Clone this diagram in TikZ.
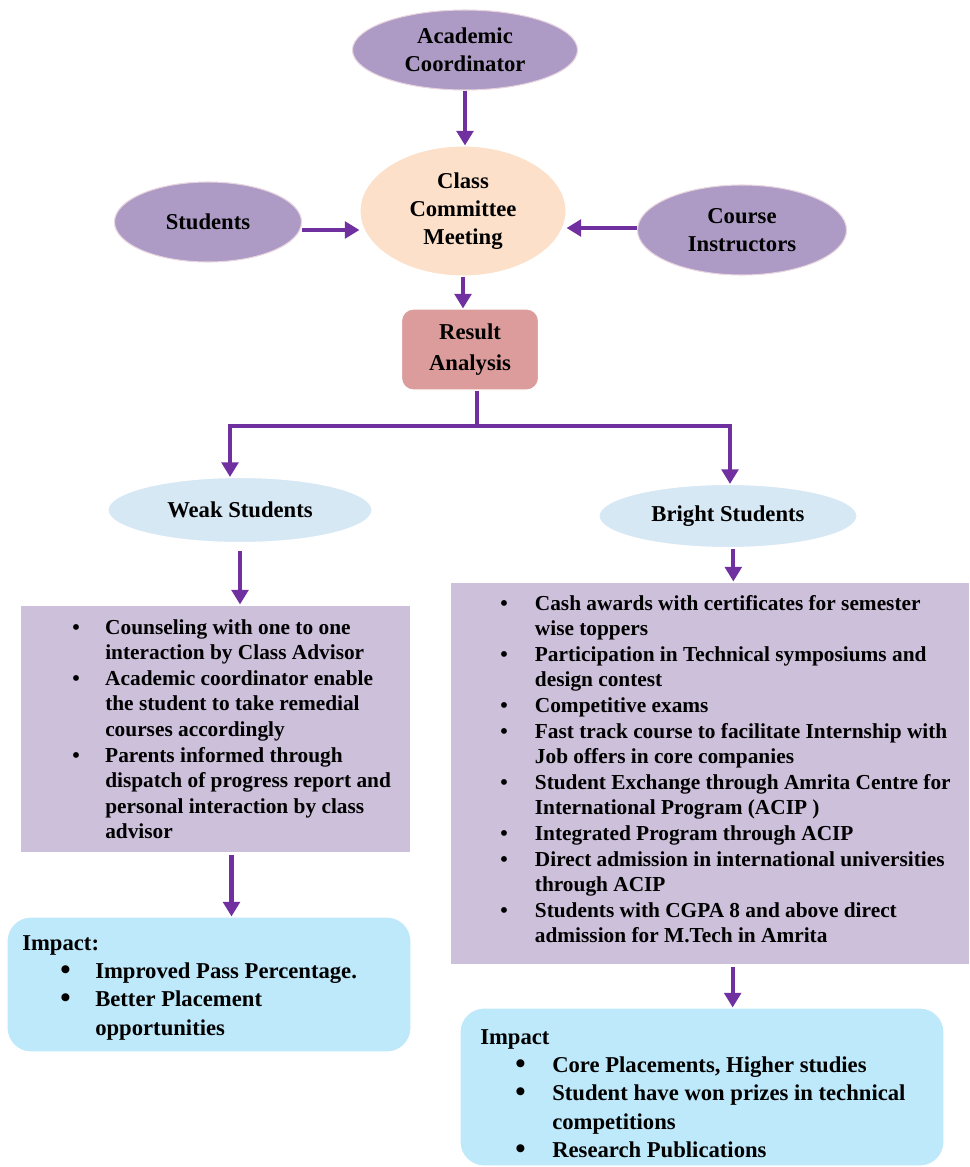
\documentclass[tikz,border=0pt]{standalone}
\usepackage{fontspec}
\usepackage{graphicx}
\setmainfont{Liberation Serif}
\usetikzlibrary{shapes.geometric,arrows.meta}

\definecolor{ovalpurple}{RGB}{173,155,198}
\definecolor{ovalrim}{RGB}{232,212,222}
\definecolor{meetpeach}{RGB}{252,224,201}
\definecolor{resultrose}{RGB}{221,156,156}
\definecolor{paleblue}{RGB}{215,232,245}
\definecolor{lavender}{RGB}{204,192,218}
\definecolor{impactblue}{RGB}{190,233,250}
\definecolor{flowpurple}{RGB}{112,48,160}

\newcommand{\bigbullet}{\raisebox{-0.5pt}{\scalebox{1.3}{\textbullet}}}

\begin{document}
\begin{tikzpicture}[x=0.75pt,y=-0.75pt,
  boxdim/.style 2 args={minimum width=#1*0.75pt,minimum height=#2*0.75pt},
  oval/.style={ellipse,inner sep=0pt,align=center,font=\bfseries\fontsize{17}{21}\selectfont},
  peopleoval/.style={oval,fill=ovalpurple,draw=ovalrim,line width=0.8pt},
  groupoval/.style={oval,fill=paleblue,draw=white,line width=0.8pt},
  listbox/.style={rectangle,inner sep=0pt,fill=lavender,draw=white,line width=0.8pt},
  impactbox/.style={rectangle,inner sep=0pt,rounded corners=18pt,fill=impactblue,draw=white,line width=0.8pt},
  listtext/.style={anchor=north west,inner sep=0pt,font=\bfseries\fontsize{16}{19.2}\selectfont},
  impacttext/.style={anchor=north west,inner sep=0pt,font=\bfseries\fontsize{17}{21.3}\selectfont},
  flowline/.style={draw=flowpurple,line width=3.2pt},
  flowarrow/.style={flowline,-{Triangle[length=11pt,width=12.5pt]}},
]
\useasboundingbox (0,0) rectangle (970,1167);

% --- top of the flow -------------------------------------------------
\node[peopleoval,boxdim={225}{80}] (coord) at (465,50) {Academic\\Coordinator};
\node[oval,fill=meetpeach,draw=white,line width=0.8pt,boxdim={206}{130}] (meeting) at (463,211) {Class\\Committee\\Meeting};
\node[peopleoval,boxdim={187}{80}] (students) at (208,222) {Students};
\node[peopleoval,boxdim={209}{90}] (instructors) at (742,230) {Course\\Instructors};
\node[rectangle,rounded corners=9pt,fill=resultrose,draw=white,line width=0.8pt,
      inner sep=0pt,align=center,font=\bfseries\fontsize{17}{23}\selectfont,
      boxdim={137}{81}] (result) at (470,349.5) {Result\\Analysis};

% --- the two groups ----------------------------------------------------
\node[groupoval,boxdim={264}{65}] (weak) at (240,510) {Weak Students};
\node[groupoval,boxdim={258}{63}] (bright) at (728,516) {Bright Students};

% --- measures for each group --------------------------------------------
\node[listbox,boxdim={391}{248}] (weakbox) at (215.5,729) {};
\node[listtext] (weaklist) at (72,616) {%
\begin{tabular}{@{}p{24.75pt}@{}l@{}}
\textbullet & Counseling with one to one\\
 & interaction by Class Advisor\\
\textbullet & Academic coordinator enable\\
 & the student to take remedial\\
 & courses accordingly\\
\textbullet & Parents informed through\\
 & dispatch of progress report and\\
 & personal interaction by class\\
 & advisor
\end{tabular}};

\node[listbox,boxdim={520}{383}] (brightbox) at (710,773.5) {};
\node[listtext] (brightlist) at (500,592) {%
\begin{tabular}{@{}p{26pt}@{}l@{}}
\textbullet & Cash awards with certificates for semester\\
 & wise toppers\\
\textbullet & Participation in Technical symposiums and\\
 & design contest\\
\textbullet & Competitive exams\\
\textbullet & Fast track course to facilitate Internship with\\
 & Job offers in core companies\\
\textbullet & Student Exchange through Amrita Centre for\\
 & International Program (ACIP )\\
\textbullet & Integrated Program through ACIP\\
\textbullet & Direct admission in international universities\\
 & through ACIP\\
\textbullet & Students with CGPA 8 and above direct\\
 & admission for M.Tech in Amrita
\end{tabular}};

% --- impact of the measures ----------------------------------------------
\node[impactbox,boxdim={404}{135}] (weakimpact) at (209,984.5) {};
\node[impacttext] (weakimpacttext) at (22,930) {%
\begin{tabular}{@{}p{28.5pt}@{}p{26.25pt}@{}l@{}}
\multicolumn{3}{@{}l@{}}{Impact:}\\
 & \bigbullet & Improved Pass Percentage.\\
 & \bigbullet & Better Placement\\
 & & opportunities
\end{tabular}};

\node[impactbox,boxdim={484}{158}] (brightimpact) at (702,1087) {};
\node[impacttext] (brightimpacttext) at (480,1024) {%
\begin{tabular}{@{}p{26.25pt}@{}p{27.75pt}@{}l@{}}
\multicolumn{3}{@{}l@{}}{Impact}\\
 & \bigbullet & Core Placements, Higher studies\\
 & \bigbullet & Student have won prizes in technical\\
 & & competitions\\
 & \bigbullet & Research Publications
\end{tabular}};

% --- connectors --------------------------------------------------------
\draw[flowarrow] (coord.south) -- (coord.south |- meeting.north);
\draw[flowarrow] ([yshift=-6pt]students.east) -- ([yshift=-6pt]students.east -| meeting.west);
\draw[flowarrow] ([yshift=1.5pt]instructors.west) -- ([yshift=1.5pt]instructors.west -| meeting.east);
\draw[flowarrow] (meeting.south) -- (meeting.south |- result.north);

\coordinate (split) at (477,426);
\coordinate (leftturn) at (230,426);
\coordinate (rightturn) at (730,426);
\draw[flowline] (result.south -| split) -- (split);
\draw[flowarrow] (split) -- (leftturn) -- (leftturn |- weak.north);
\draw[flowarrow] (split) -- (rightturn) -- (rightturn |- bright.north);

\draw[flowarrow,shorten <=6pt] (weak.south) -- (weak.south |- weakbox.north);
\draw[flowarrow,shorten <=1pt] ([xshift=12pt]weakbox.south) -- ([xshift=12pt]weakbox.south |- weakimpact.north);
\draw[flowarrow,shorten <=1pt] ([xshift=4pt]bright.south) -- ([xshift=4pt]bright.south |- brightbox.north);
\draw[flowarrow,shorten <=1pt] ([xshift=17pt]brightbox.south) -- ([xshift=17pt]brightbox.south |- brightimpact.north);
\end{tikzpicture}
\end{document}
